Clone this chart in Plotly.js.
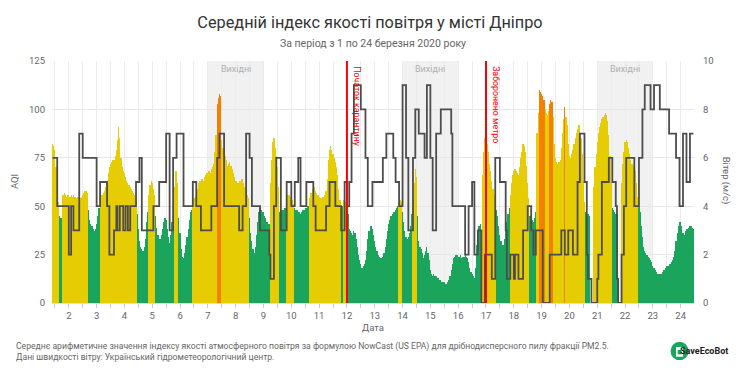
<!DOCTYPE html>
<html><head><meta charset="utf-8">
<script src="https://cdn.plot.ly/plotly-3.0.1.min.js"></script>
<style>html,body{margin:0;padding:0;background:#fff}#chart{width:740px;height:370px}</style>
</head><body><div id="chart"></div>
<script>
// Hours counted from 2020-03-01 00:00
const firstHour = 10;
// Hourly AQI (NowCast PM2.5), from firstHour onward
const aqi = [
82,81,79,70,60,52,45,44,44,56,
57,56,55,56,56,55,56,55,56,55,
55,54,55,55,54,55,56,57,58,58,
57,48,43,41,40,38,37,38,41,45,
49,55,56,56,57,58,60,63,67,70,
72,73,74,74,76,79,84,91,85,75,
70,68,67,65,63,62,61,60,59,58,
57,56,54,46,38,32,29,28,27,29,
33,42,47,56,61,63,62,59,56,45,
39,35,33,33,35,38,42,44,43,38,
34,31,35,42,48,60,68,68,62,44,
36,28,24,23,26,30,34,38,43,47,
48,52,54,55,56,59,62,63,63,64,
63,65,66,67,67,68,67,69,70,72,
78,87,103,106,108,107,84,80,78,76,
74,71,72,73,71,69,67,65,63,63,
62,63,63,64,64,62,60,58,56,54,
44,36,32,28,26,29,35,42,47,49,
48,47,47,45,44,42,41,41,62,74,
83,85,80,76,70,60,47,46,48,48,
49,49,54,56,56,55,55,53,51,49,
48,48,47,47,46,47,48,48,49,49,
50,50,54,57,59,60,60,58,57,56,
55,54,54,55,55,56,58,64,74,79,
81,79,77,75,73,70,66,59,53,49,
50,53,54,52,48,46,38,37,36,35,
37,36,33,29,25,22,20,18,19,20,
22,27,33,37,40,40,38,35,32,29,
27,25,24,23,23,24,26,29,33,37,
41,43,45,46,47,47,48,49,50,52,
53,52,47,42,37,34,33,34,36,40,
46,53,62,69,65,45,32,29,28,26,
23,25,27,29,26,22,17,15,14,15,
14,14,13,13,12,12,11,11,11,10,
10,11,12,14,17,20,23,24,25,25,
24,24,25,23,24,24,25,24,23,21,
18,16,15,14,13,18,30,37,40,41,
null,66,78,85,86,82,78,72,68,63,
59,56,52,48,45,40,35,32,30,30,
33,37,42,46,49,56,62,66,68,69,
68,67,66,70,75,78,82,81,78,71,
62,54,45,44,43,42,44,47,88,98,
110,109,108,107,105,100,98,97,99,103,
105,104,96,82,75,73,72,73,74,80,
88,95,101,96,92,82,76,75,77,79,
82,85,88,90,92,92,85,77,63,52,
47,46,46,45,null,null,null,60,70,77,
83,88,91,93,95,96,97,98,97,94,
87,76,62,49,48,47,46,46,null,null,
null,62,72,78,83,84,83,80,77,74,
72,71,70,68,62,55,50,47,40,34,
29,27,26,25,24,23,22,21,19,18,
17,16,15,15,15,15,16,17,17,18,
19,19,20,20,21,22,24,27,32,36,
40,42,42,40,36,35,37,38,38,39,
40,40,39,38
];
// Wind speed (m/s): hour at which each value starts
const windHours = [10,14,24,26,28,33,36,48,51,57,59,63,65,66,68,71,73,75,77,82,85,87,97,102,108,111,114,117,123,131,134,138,147,152,154,158,171,174,177,180,182,189,197,198,201,203,207,212,216,219,222,224,229,235,237,246,249,254,259,262,264,266,268,270,276,280,282,286,295,298,304,306,309,312,315,317,321,323,326,331,333,336,338,341,345,354,355,366,369,372,374,377,380,383,389,392,396,401,402,405,408,409,412,416,420,423,425,427,433,439,449,452,455,459,463,465,469,471,472,475,480,481,484,490,493,496,497,498,501,503,505,512,516,519,521,526,529,534,542,548,551,554,557,560];
const windSpeed = [6,4,2,4,3,7,6,4,5,4,2,3,4,3,4,3,4,3,4,5,6,3,4,5,7,3,6,7,4,5,4,3,4,6,7,4,3,4,7,6,4,3,2,1,4,6,3,5,4,5,6,4,5,4,3,4,5,4,3,5,4,5,7,9,8,6,4,5,6,7,6,5,4,9,6,3,6,8,7,6,9,6,3,7,8,7,4,2,4,5,2,3,0,2,1,6,5,3,1,2,1,2,1,3,4,3,2,3,0,2,3,2,3,2,5,7,5,2,1,0,1,2,5,6,5,4,1,0,2,4,6,4,6,8,9,8,9,8,7,6,4,7,5,7];
const dayLabels = ['2','3','4','5','6','7','8','9','10','11','12','13','14','15','16','17','18','19','20','21','22','23','24'];
const weekendStartDays = [7, 14, 21];
const weekendLabel = 'Вихідні';
const eventDays = [12, 17];
const eventLabels = ['Початок карантину', 'Заборонено метро'];
const aqiTicks = [0, 25, 50, 75, 100, 125];
const windTicks = [0, 2, 4, 6, 8, 10];

const FONT = 'Roboto, "Liberation Sans", sans-serif';
const GREEN = '#1ba45b', YELLOW = '#e6cd03', ORANGE = '#f47f02', RED = '#f26a16';
function aqiColor(v) { if (v == null) return GREEN; if (v <= 50) return GREEN; if (v <= 100) return YELLOW; if (v <= 150) return ORANGE; return RED; }

const hours = aqi.map((_, i) => firstHour + i);
const lastHour = hours[hours.length - 1];
const dayHour = d => (d - 1) * 24;

const tickvals = [], ticktext = [];
for (let h = 12; h <= lastHour; h += 12) {
  tickvals.push(h);
  const d = h / 24 + 1;
  ticktext.push(h % 24 === 0 && dayLabels.includes(String(d)) ? String(d) : '');
}

const bars = {
  type: 'bar', x: hours, y: aqi, width: 1,
  marker: { color: aqi.map(aqiColor), line: { width: 0 } },
  hoverinfo: 'skip', xaxis: 'x', yaxis: 'y'
};
const wind = {
  type: 'scatter', mode: 'lines',
  x: windHours.concat([lastHour]), y: windSpeed.concat([windSpeed[windSpeed.length - 1]]),
  line: { shape: 'hv', color: '#4d4d4d', width: 1.8 },
  xaxis: 'x', yaxis: 'y2', hoverinfo: 'skip'
};

const shapes = [];
const annotations = [];
weekendStartDays.forEach(d => {
  shapes.push({ type: 'rect', xref: 'x', yref: 'paper', x0: dayHour(d), x1: dayHour(d + 2), y0: 0, y1: 1,
    fillcolor: '#f1f1f1', line: { width: 0 }, layer: 'below' });
  annotations.push({ xref: 'x', yref: 'paper', x: dayHour(d + 1), y: 0.995, yanchor: 'top', xanchor: 'center', showarrow: false,
    text: weekendLabel, font: { family: FONT, size: 9, color: '#b0b0b0' } });
});
eventDays.forEach((d, i) => {
  shapes.push({ type: 'line', xref: 'x', yref: 'paper', x0: dayHour(d), x1: dayHour(d), y0: 0, y1: 1,
    line: { color: '#ff0000', width: 2 } });
  annotations.push({ xref: 'x', yref: 'paper', x: dayHour(d), y: 0.985, xanchor: 'left', yanchor: 'top',
    xshift: 3, showarrow: false, textangle: 90, text: eventLabels[i],
    font: { family: FONT, size: 8.8, color: '#ff0000' } });
});
// logo
shapes.push({ type: 'circle', xref: 'paper', yref: 'paper', x0: 0.9635, x1: 0.9915, y0: -0.236, y1: -0.160,
  fillcolor: '#1ba45b', line: { width: 0 } });
shapes.push({ type: 'rect', xref: 'paper', yref: 'paper', x0: 0.972, x1: 0.983, y0: -0.222, y1: -0.182,
  fillcolor: '#ffffff', line: { width: 0 } });
shapes.push({ type: 'rect', xref: 'paper', yref: 'paper', x0: 0.9745, x1: 0.9805, y0: -0.212, y1: -0.194,
  fillcolor: '#1ba45b', line: { width: 0 } });

const gray = '#666';
annotations.push(
  { xref: 'paper', yref: 'paper', x: 0.5, y: 1.074, xanchor: 'center', yanchor: 'middle', showarrow: false,
    text: 'За період з 1 по 24 березня 2020 року', font: { family: FONT, size: 10.5, color: gray } },
  { xref: 'paper', yref: 'paper', x: -0.059, y: 0.5, xanchor: 'center', yanchor: 'middle', showarrow: false,
    textangle: -90, text: 'AQI', font: { family: FONT, size: 9.5, color: gray } },
  { xref: 'paper', yref: 'paper', x: 1.05, y: 0.505, xanchor: 'center', yanchor: 'middle', showarrow: false,
    textangle: 90, text: 'Вітер (м/с)', font: { family: FONT, size: 9.5, color: gray } },
  { xref: 'paper', yref: 'paper', x: 0.5, y: -0.1, xanchor: 'center', yanchor: 'middle', showarrow: false,
    text: 'Дата', font: { family: FONT, size: 9.5, color: gray } },
  { xref: 'paper', yref: 'paper', x: -0.0592, y: -0.180, xanchor: 'left', yanchor: 'middle', showarrow: false, align: 'left',
    text: 'Середнє арифметичне значення індексу якості атмосферного повітря за формулою NowCast (US EPA) для дрібнодисперсного пилу фракції PM2.5.',
    font: { family: FONT, size: 8.6, color: gray } },
  { xref: 'paper', yref: 'paper', x: -0.0592, y: -0.222, xanchor: 'left', yanchor: 'middle', showarrow: false, align: 'left',
    text: 'Дані швидкості вітру: Український гідрометеорологічний центр.',
    font: { family: FONT, size: 8.6, color: gray } },
  { xref: 'paper', yref: 'paper', x: 1.0555, y: -0.197, xanchor: 'right', yanchor: 'middle', showarrow: false,
    text: '<b>Save</b><b>EcoBot</b>', font: { family: FONT, size: 9, color: '#222' } }
);

const layout = {
  width: 740, height: 370,
  margin: { l: 52, r: 46, t: 61, b: 67 },
  paper_bgcolor: '#fff', plot_bgcolor: 'rgba(0,0,0,0)',
  font: { family: FONT, color: gray },
  showlegend: false, bargap: 0,
  title: { text: 'Середній індекс якості повітря у місті Дніпро', xref: 'container', x: 0.5, xanchor: 'center',
    yref: 'container', y: 0.94, yanchor: 'middle', font: { family: FONT, size: 16.3, color: '#333' } },
  xaxis: { range: [firstHour - 0.5, lastHour + 0.5], tickmode: 'array', tickvals, ticktext,
    showgrid: true, gridcolor: '#ececec', gridwidth: 1, zeroline: false,
    ticks: 'outside', ticklen: 4, tickcolor: '#cccccc', showline: true, linecolor: '#dddddd',
    tickfont: { family: FONT, size: 9.5, color: gray } },
  yaxis: { range: [0, 125], tickmode: 'array', tickvals: aqiTicks, gridcolor: '#e6e6e6', zeroline: false,
    tickfont: { family: FONT, size: 9.5, color: gray }, ticklabelstandoff: 6 },
  yaxis2: { range: [0, 10], tickmode: 'array', tickvals: windTicks, overlaying: 'y', side: 'right',
    showgrid: false, zeroline: false, tickfont: { family: FONT, size: 9.5, color: gray }, ticklabelstandoff: 8 },
  shapes, annotations
};
Plotly.newPlot('chart', [bars, wind], layout, { staticPlot: true, displayModeBar: false });
</script></body></html>
